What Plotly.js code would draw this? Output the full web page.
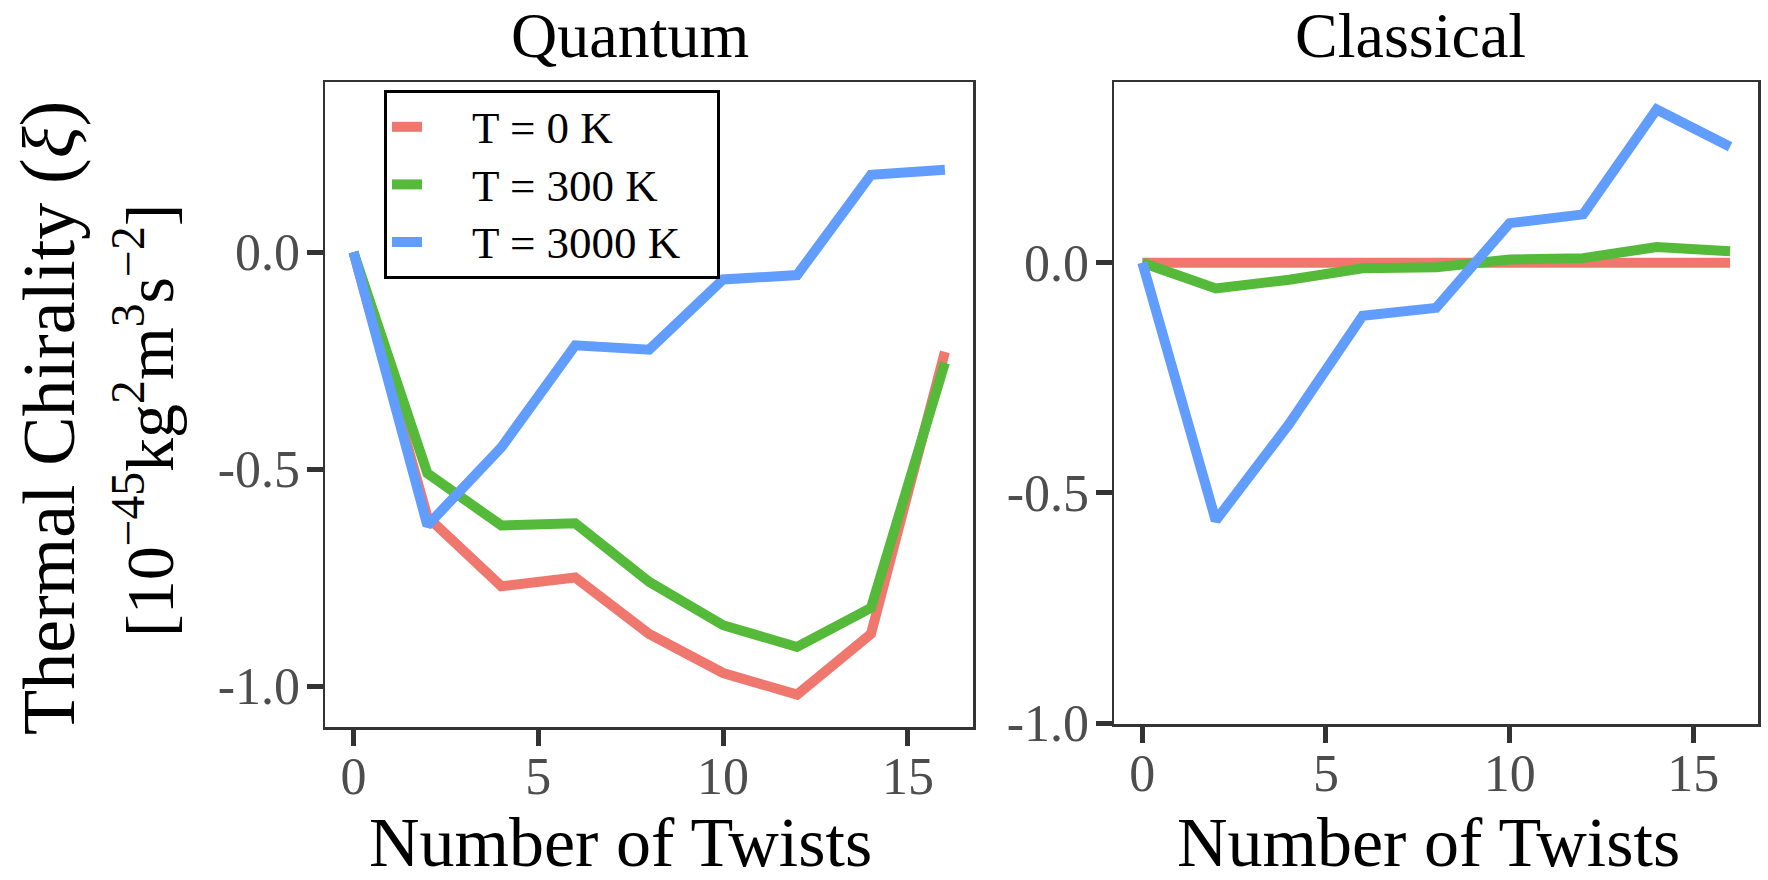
<!DOCTYPE html>
<html>
<head>
<meta charset="utf-8">
<script src="https://cdn.plot.ly/plotly-3.0.1.min.js"></script>
<style>html,body{margin:0;padding:0;background:#fff;}#chart{width:1768px;height:880px;}</style>
</head>
<body>
<div id="chart"></div>
<script>
// ---- data ----
const twists = [0, 2, 4, 6, 8, 10, 12, 14, 16];
const seriesNames = ["T = 0 K", "T = 300 K", "T = 3000 K"];
const seriesColors = ["#F0776E", "#55BA3A", "#619CFF"];
const quantumT0 = [0, -0.61, -0.77, -0.75, -0.88, -0.97, -1.02, -0.88, -0.23];
const quantumT300 = [0, -0.51, -0.63, -0.625, -0.76, -0.86, -0.91, -0.82, -0.255];
const quantumT3000 = [0, -0.63, -0.45, -0.215, -0.225, -0.063, -0.053, 0.178, 0.19];
const classicalT0 = [0, 0, 0, 0, 0, 0, 0, 0, 0];
const classicalT300 = [0, -0.056, -0.037, -0.012, -0.01, 0.007, 0.01, 0.034, 0.025];
const classicalT3000 = [0, -0.56, -0.35, -0.115, -0.098, 0.086, 0.105, 0.333, 0.252];
const xTickVals = [0, 5, 10, 15];
const xTickText = ["0", "5", "10", "15"];
const yTickVals = [-1, -0.5, 0];
const yTickText = ["-1.0", "-0.5", "0.0"];
const panelTitles = ["Quantum", "Classical"];
const xTitle = "Number of Twists";
const yTitleLine1 = 'Thermal Chirality <span style="font-size:78px">(</span><i>ξ</i><span style="font-size:78px">)</span>';
const yTitleLine2 = "[10<sup>−45</sup>kg<sup>2</sup>m<sup>3</sup>s<sup>−2</sup>]";

// ---- layout helpers ----
const W = 1768, H = 880;
const px = v => v / W;
const py = v => 1 - v / H;
const SERIF = "Liberation Serif, Times New Roman, serif";
const LW = 10;

const legendLabel = s => '<span style="font-size:45px">\u2002\u2002' + s + '\u2002\u2009</span>';

const quantum = [quantumT0, quantumT300, quantumT3000];
const classical = [classicalT0, classicalT300, classicalT3000];
const traces = [];
quantum.forEach((ys, i) => traces.push({
  x: twists, y: ys, type: "scatter", mode: "lines", name: legendLabel(seriesNames[i]),
  line: {color: seriesColors[i], width: LW}, xaxis: "x", yaxis: "y", showlegend: true
}));
classical.forEach((ys, i) => traces.push({
  x: twists, y: ys, type: "scatter", mode: "lines", name: seriesNames[i],
  line: {color: seriesColors[i], width: LW}, xaxis: "x2", yaxis: "y2", showlegend: false
}));

const axisCommon = {
  showline: true, linecolor: "#333333", linewidth: 2.5, mirror: true,
  showgrid: false, zeroline: false,
  ticks: "outside", ticklen: 16, tickwidth: 5, tickcolor: "#333333",
  tickfont: {family: SERIF, size: 52, color: "#4D4D4D"}
};
const xRange = [-0.77, 16.76];

const layout = {
  width: W, height: H,
  margin: {l: 0, r: 0, t: 0, b: 0},
  paper_bgcolor: "#ffffff", plot_bgcolor: "#ffffff",
  showlegend: true,
  legend: {
    x: px(384), y: py(90), xanchor: "left", yanchor: "top",
    bgcolor: "#ffffff", bordercolor: "#000000", borderwidth: 3,
    font: {family: SERIF, size: 42, color: "#000000"},
    tracegroupgap: 0
  },
  xaxis: Object.assign({}, axisCommon, {domain: [px(325), px(973)], range: xRange, tickvals: xTickVals, ticktext: xTickText, anchor: "y", ticklabelstandoff: -14}),
  yaxis: Object.assign({}, axisCommon, {domain: [py(727), py(82)], range: [-1.0945, 0.392], tickvals: yTickVals, ticktext: yTickText, anchor: "x", ticklabelstandoff: -4}),
  xaxis2: Object.assign({}, axisCommon, {domain: [px(1114), px(1758)], range: xRange, tickvals: xTickVals, ticktext: xTickText, anchor: "y2", ticklabelstandoff: -14}),
  yaxis2: Object.assign({}, axisCommon, {domain: [py(724), py(82)], range: [-1.002, 0.3926], tickvals: yTickVals, ticktext: yTickText, anchor: "x2", ticklabelstandoff: -4}),
  annotations: [
    {text: panelTitles[0], x: px(630), y: py(35), xref: "paper", yref: "paper", xanchor: "center", yanchor: "middle", showarrow: false, font: {family: SERIF, size: 64, color: "#000"}},
    {text: panelTitles[1], x: px(1410), y: py(35), xref: "paper", yref: "paper", xanchor: "center", yanchor: "middle", showarrow: false, font: {family: SERIF, size: 64, color: "#000"}},
    {text: xTitle, x: px(620), y: py(842), xref: "paper", yref: "paper", xanchor: "center", yanchor: "middle", showarrow: false, font: {family: SERIF, size: 70, color: "#000"}},
    {text: xTitle, x: px(1428), y: py(842), xref: "paper", yref: "paper", xanchor: "center", yanchor: "middle", showarrow: false, font: {family: SERIF, size: 70, color: "#000"}},
    {text: yTitleLine1, x: px(47), y: py(418), xref: "paper", yref: "paper", xanchor: "center", yanchor: "middle", textangle: -90, showarrow: false, font: {family: SERIF, size: 74, color: "#000"}},
    {text: yTitleLine2, x: px(145), y: py(421), xref: "paper", yref: "paper", xanchor: "center", yanchor: "middle", textangle: -90, showarrow: false, font: {family: SERIF, size: 68, color: "#000"}}
  ]
};

Plotly.newPlot("chart", traces, layout, {staticPlot: true, displayModeBar: false});
</script>
</body>
</html>
